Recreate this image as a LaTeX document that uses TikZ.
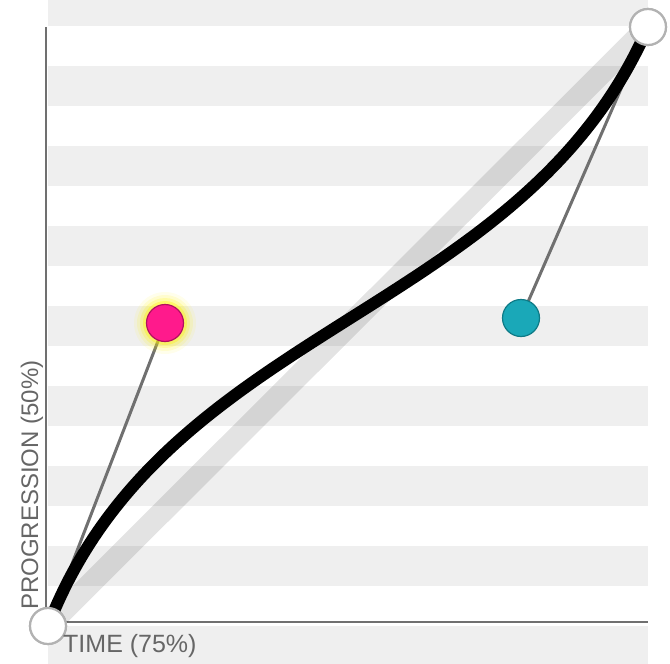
\documentclass[tikz,border=0pt]{standalone}
\usepackage{fontspec}
\setmainfont{Liberation Sans}
\usepackage{xcolor}
\usepackage{tikz}
\usetikzlibrary{positioning,calc}

\definecolor{stripe}{HTML}{EFEFEF}
\definecolor{axisgray}{HTML}{707070}
\definecolor{lbl}{HTML}{666666}
\definecolor{pinkpt}{HTML}{FF1A8C}
\definecolor{pinkrim}{HTML}{B0105F}
\definecolor{tealpt}{HTML}{1AA8B8}
\definecolor{tealrim}{HTML}{0E7A86}

\begin{document}
\begin{tikzpicture}[
  x=1pt, y=-1pt,
  endpt/.style={circle, draw=black!30, line width=2.2pt, fill=white, minimum size=36pt, inner sep=0pt},
  ctrl/.style={circle, line width=1.2pt, minimum size=37pt, inner sep=0pt},
  handle/.style={draw=axisgray, line width=3pt},
  axlbl/.style={font=\fontsize{25}{29}\selectfont, text=lbl, inner sep=0pt}
]
\useasboundingbox (0,0) rectangle (670,664);

% background stripes
\foreach \k in {0,...,8}
  \fill[stripe] (48,-14+80*\k) rectangle (648,{min(26+80*\k,664)});

% axes
\draw[axisgray, line width=2pt] (46,27) -- (46,622) -- (648,622);

% points
\node[endpt] (p0) at (48,626) {};
\node[endpt] (p3) at (648,27) {};
\coordinate (c1) at (165,323);
\coordinate (c2) at (521,318);

% linear reference
\draw[black, opacity=0.11, line width=22pt] (p0.center) -- (p3.center);

% handles
\draw[handle] (p0.center) -- (c1);
\draw[handle] (p3.center) -- (c2);

% curve
\draw[black, line width=12pt] (p0.center) .. controls (c1) and (c2) .. (p3.center);

% glow on the active handle
\foreach \r/\o in {31/0.08, 28/0.12, 25/0.2, 22/0.35}
  \fill[yellow, opacity=\o] (c1) circle (\r);

\node[ctrl, fill=pinkpt, draw=pinkrim] (h1) at (c1) {};
\node[ctrl, fill=tealpt, draw=tealrim] (h2) at (c2) {};

\node[endpt] at (p0) {};
\node[endpt] at (p3) {};

% labels
\node[axlbl, anchor=base west] (tlbl) at (63,652) {TIME (75\%)};
\node[axlbl, font=\fontsize{24}{28}\selectfont, anchor=base west, rotate=90] (plbl) at (38,610) {PROGRESSION (50\%)};
\end{tikzpicture}
\end{document}
